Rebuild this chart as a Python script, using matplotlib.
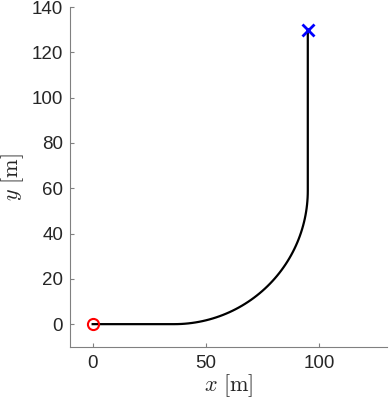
import numpy as np
import matplotlib.pyplot as plt

plt.rcParams['mathtext.fontset'] = 'cm'
plt.rcParams['font.family'] = ['Liberation Sans', 'DejaVu Sans']

# path: straight run, quarter turn, straight climb
start = (0, 0)
straight_end_x = 36
turn_radius = 59
goal = (95, 130)

# build the path from the segments
arc_t = np.linspace(-np.pi / 2, 0, 60)
cx, cy = straight_end_x, turn_radius
path_x = np.concatenate([[start[0], straight_end_x], cx + turn_radius * np.cos(arc_t), [goal[0]]])
path_y = np.concatenate([[start[1], 0], cy + turn_radius * np.sin(arc_t), [goal[1]]])

fig = plt.figure(figsize=(3.89, 4.04), dpi=100)
ax = fig.add_axes([0.18, 0.141, 0.815, 0.842])

ax.plot(path_x, path_y, color='black', lw=1.6)
ax.plot(*start, 'o', mfc='none', mec='red', ms=8, mew=1.5)
ax.plot(*goal, 'x', color='blue', ms=9, mew=2)

ax.set_xlim(-10, 130)
ax.set_ylim(-10, 140)
ax.set_xticks([0, 50, 100])
ax.set_yticks(range(0, 141, 20))
ax.set_aspect('equal')

for s in ['top', 'right']:
    ax.spines[s].set_visible(False)
for s in ['left', 'bottom']:
    ax.spines[s].set_color('#808080')
ax.tick_params(direction='in', length=3, color='#808080', labelcolor='#262626', labelsize=13.5)
ax.tick_params(axis='x', pad=6)
ax.tick_params(axis='y', pad=5)

ax.set_xlabel(r'$x\ [\mathrm{m}]$', fontsize=16, color='#262626', labelpad=0)
ax.set_ylabel(r'$y\ [\mathrm{m}]$', fontsize=16, color='#262626', labelpad=4)

fig.savefig('out.png', dpi=100)
